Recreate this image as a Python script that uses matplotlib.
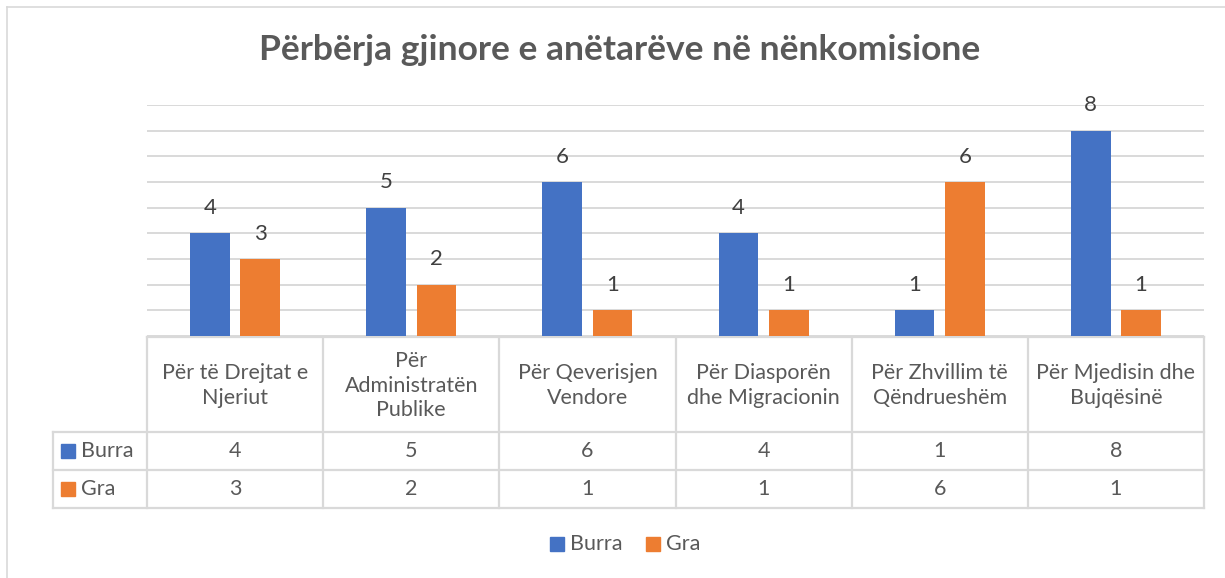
import matplotlib
matplotlib.use('Agg')
import matplotlib.pyplot as plt
import numpy as np

CATEGORIES = [
    'Për të Drejtat e\nNjeriut',
    'Për\nAdministratën\nPublike',
    'Për Qeverisjen\nVendore',
    'Për Diasporën\ndhe Migracionin',
    'Për Zhvillim të\nQëndrueshëm',
    'Për Mjedisin dhe\nBujqësinë',
]
SERIES = ['Burra', 'Gra']
BURRA = [4, 5, 6, 4, 1, 8]
GRA = [3, 2, 1, 1, 6, 1]
TITLE = 'Përbërja gjinore e anëtarëve në nënkomisione'

COLORS = ['#4472C4', '#ED7D31']
GRID = '#D9D9D9'
TXT = '#595959'
FS = 15.5

plt.rcParams['font.family'] = ['Lato', 'DejaVu Sans']

W, H = 1225, 578
fig = plt.figure(figsize=(W / 100, H / 100), dpi=100)

# pixel overlay for frame, table, legend
ov = fig.add_axes([0, 0, 1, 1])
ov.set_xlim(0, W); ov.set_ylim(H, 0); ov.axis('off')

# plot area in pixels
x0, x1, ytop, ybase = 147, 1204, 105, 336
ax = fig.add_axes([x0 / W, (H - ybase) / H, (x1 - x0) / W, (ybase - ytop) / H])
n = len(CATEGORIES)
x = np.arange(n)
bw = 0.225
off = 0.143
for vals, color, sgn in [(BURRA, COLORS[0], -1), (GRA, COLORS[1], 1)]:
    bars = ax.bar(x + sgn * off, vals, bw, color=color, zorder=3)
    for b, v in zip(bars, vals):
        ax.annotate(f'{v}', (b.get_x() + b.get_width() / 2, v), xytext=(0, 11),
                    textcoords='offset points', ha='center', va='bottom',
                    fontsize=16, color='#404040')
ax.set_xlim(-0.5, n - 0.5)
ax.set_ylim(0, 9)
ax.set_yticks(range(0, 10))
ax.yaxis.grid(True, color=GRID, linewidth=1.4, zorder=0)
ax.tick_params(left=False, bottom=False, labelleft=False, labelbottom=False)
for s in ax.spines.values():
    s.set_visible(False)

# title
fig.text(620 / W, 1 - 50 / H, TITLE, ha='center', va='center', fontsize=25.5,
         fontweight='bold', color=TXT)

# outer frame (top / left visible)
ov.plot([7, W], [7, 7], color=GRID, lw=1.2)
ov.plot([7, 7], [7, H], color=GRID, lw=1.2)

# data table
colw = (x1 - x0) / n
tx_left = 53
r0, r1, r2, r3 = 337, 432, 470, 508
lw = 1.6
ov.plot([x0, x1], [r0, r0], color=GRID, lw=lw)
for yy in (r1, r2, r3):
    ov.plot([tx_left, x1], [yy, yy], color=GRID, lw=lw)
ov.plot([tx_left, tx_left], [r1, r3], color=GRID, lw=lw)
for i in range(n + 1):
    ov.plot([x0 + i * colw] * 2, [r0, r3], color=GRID, lw=lw)
for i, cat in enumerate(CATEGORIES):
    cx = x0 + (i + 0.5) * colw
    ov.text(cx, (r0 + r1) / 2 + 1, cat, ha='center', va='center', fontsize=FS,
            color=TXT, linespacing=1.3)
    ov.text(cx, (r1 + r2) / 2, str(BURRA[i]), ha='center', va='center',
            fontsize=FS, color=TXT)
    ov.text(cx, (r2 + r3) / 2, str(GRA[i]), ha='center', va='center',
            fontsize=FS, color=TXT)
for name, color, (ya, yb) in zip(SERIES, COLORS, [(r1, r2), (r2, r3)]):
    yc = (ya + yb) / 2
    ov.add_patch(plt.Rectangle((61, yc - 7), 14, 14, color=color))
    ov.text(81, yc, name, ha='left', va='center', fontsize=FS, color=TXT)

# legend below
ly = 544
for name, color, sx in zip(SERIES, COLORS, [550, 646]):
    ov.add_patch(plt.Rectangle((sx, ly - 7), 14, 14, color=color))
    ov.text(sx + 20, ly, name, ha='left', va='center', fontsize=FS, color=TXT)

fig.savefig('out.png', dpi=100)
